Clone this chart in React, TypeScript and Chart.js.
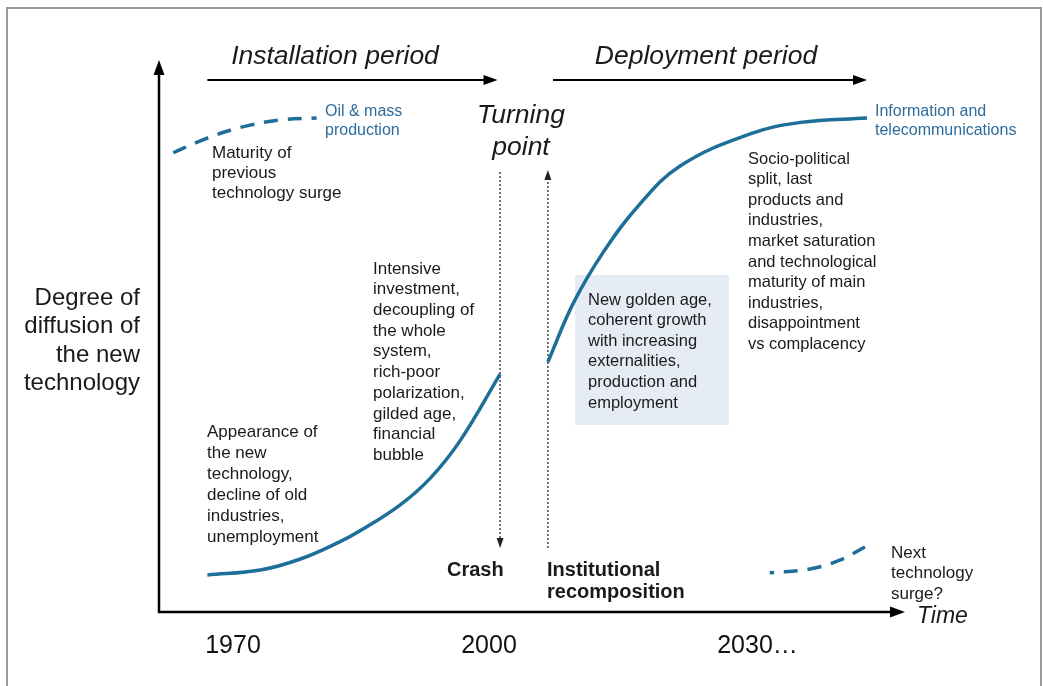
import React, { useEffect, useRef } from "react";
import { Chart, registerables } from "chart.js";

Chart.register(...registerables);

// ---- data ----
const INSTALL_YEARS = [1967, 1973.2, 1977.9, 1982.5, 1984.9, 1989.6, 1993.1, 1996.6, 2001.3];
const INSTALL_LEVELS = [6.7, 7.6, 9.6, 12.7, 14.7, 19.4, 24.2, 31.0, 43.1];
const DEPLOY_YEARS = [2006.9, 2009.9, 2013.4, 2017.4, 2022.4, 2030.6, 2036.5, 2044.3];
const DEPLOY_LEVELS = [45.3, 56.0, 65.2, 73.4, 80.8, 86.6, 88.7, 89.5];
const PREV_YEARS = [1963.0, 1966.1, 1969.1, 1972.0, 1975.3, 1979.8];
const PREV_LEVELS = [83.2, 85.3, 87.0, 88.2, 89.1, 89.5];
const NEXT_YEARS = [2032.9, 2037.6, 2041.1, 2044.1];
const NEXT_LEVELS = [7.1, 7.8, 9.4, 11.8];

const TICK_YEARS = [1970, 2000, 2030];
const TICK_LABELS = ["1970", "2000", "2030"];
const TICK_SUFFIX = ["", "", "…"];

const CRASH_YEAR = 2001.3;
const RECOMPOSITION_YEAR = 2006.9;
const PERIOD_LABELS = ["Installation period", "Deployment period"];
const PERIOD_FROM = [1967, 2007.5];
const PERIOD_TO = [2001, 2044.3];

const BLUE = "#1d6e98";
const LABEL_BLUE = "#2d6c9c";
const TEXT = "#1a1a1a";
const FONT = "'Liberation Sans', Arial, Helvetica, sans-serif";

const toXY = (xs: number[], ys: number[]) => xs.map((x, i) => ({ x, y: ys[i] }));

type Block = {
  lines: string[];
  x: number;
  y: number;
  lh: number;
  font: string;
  color?: string;
  align?: CanvasTextAlign;
};

// layout of the annotation texts (page pixels)
const BLOCKS: Block[] = [
  { lines: ["Maturity of", "previous", "technology surge"], x: 212, y: 153, lh: 20, font: `17px ${FONT}` },
  { lines: ["Oil & mass", "production"], x: 325, y: 112, lh: 19, font: `16px ${FONT}`, color: LABEL_BLUE },
  { lines: ["Information and", "telecommunications"], x: 875, y: 112, lh: 19, font: `16px ${FONT}`, color: LABEL_BLUE },
  {
    lines: ["Appearance of", "the new", "technology,", "decline of old", "industries,", "unemployment"],
    x: 207, y: 432, lh: 21, font: `17px ${FONT}`,
  },
  {
    lines: ["Intensive", "investment,", "decoupling of", "the whole", "system,", "rich-poor", "polarization,", "gilded age,", "financial", "bubble"],
    x: 373, y: 269, lh: 20.7, font: `17px ${FONT}`,
  },
  {
    lines: ["New golden age,", "coherent growth", "with increasing", "externalities,", "production and", "employment"],
    x: 588, y: 300, lh: 20.6, font: `16.5px ${FONT}`,
  },
  {
    lines: ["Socio-political", "split, last", "products and", "industries,", "market saturation", "and technological", "maturity of main", "industries,", "disappointment", "vs complacency"],
    x: 748, y: 159, lh: 20.6, font: `16.5px ${FONT}`,
  },
  { lines: ["Next", "technology", "surge?"], x: 891, y: 553, lh: 20.5, font: `17px ${FONT}` },
  { lines: ["Crash"], x: 447, y: 570, lh: 22, font: `bold 20px ${FONT}` },
  { lines: ["Institutional", "recomposition"], x: 547, y: 570, lh: 22, font: `bold 20px ${FONT}` },
  { lines: ["Turning", "point"], x: 521, y: 116, lh: 32, font: `italic 26.5px ${FONT}`, align: "center" },
  { lines: ["Time"], x: 917, y: 617, lh: 24, font: `italic 23px ${FONT}` },
  {
    lines: ["Degree of", "diffusion of", "the new", "technology"],
    x: 140, y: 298, lh: 28.6, font: `24px ${FONT}`, align: "right",
  },
];
const PERIOD_LABEL_X = [335, 706];
const PERIOD_LABEL_Y = 57;
const PERIOD_ARROW_Y = 80;
const BOX = { x: 575, y: 275, w: 154, h: 150, color: "#e6ecf4" };

function drawBlock(ctx: CanvasRenderingContext2D, b: Block) {
  ctx.save();
  ctx.font = b.font;
  ctx.fillStyle = b.color || TEXT;
  ctx.textAlign = b.align || "left";
  ctx.textBaseline = "middle";
  b.lines.forEach((l, i) => ctx.fillText(l, b.x, b.y + i * b.lh));
  ctx.restore();
}

function arrowHead(ctx: CanvasRenderingContext2D, tx: number, ty: number, dir: "up" | "down" | "right", len: number, half: number) {
  ctx.beginPath();
  if (dir === "up") {
    ctx.moveTo(tx, ty);
    ctx.lineTo(tx - half, ty + len);
    ctx.lineTo(tx + half, ty + len);
  } else if (dir === "down") {
    ctx.moveTo(tx, ty);
    ctx.lineTo(tx - half, ty - len);
    ctx.lineTo(tx + half, ty - len);
  } else {
    ctx.moveTo(tx, ty);
    ctx.lineTo(tx - len, ty - half);
    ctx.lineTo(tx - len, ty + half);
  }
  ctx.closePath();
  ctx.fill();
}

const decorPlugin = {
  id: "decor",
  beforeDatasetsDraw(chart: any) {
    const ctx: CanvasRenderingContext2D = chart.ctx;
    const { left, right, top, bottom } = chart.chartArea;
    ctx.save();
    // outer frame
    ctx.strokeStyle = "#9c9c9c";
    ctx.lineWidth = 2;
    ctx.beginPath();
    ctx.moveTo(7, 700);
    ctx.lineTo(7, 8);
    ctx.lineTo(1041, 8);
    ctx.lineTo(1041, 700);
    ctx.stroke();

    // shaded box
    ctx.fillStyle = BOX.color;
    ctx.fillRect(BOX.x, BOX.y, BOX.w, BOX.h);

    // axes
    ctx.strokeStyle = "#000";
    ctx.fillStyle = "#000";
    ctx.lineWidth = 2.5;
    ctx.beginPath();
    ctx.moveTo(left, top + 10);
    ctx.lineTo(left, bottom);
    ctx.lineTo(right - 10, bottom);
    ctx.stroke();
    arrowHead(ctx, left, top, "up", 15, 5.5);
    arrowHead(ctx, right, bottom, "right", 15, 5.5);

    // dotted vertical lines
    const xs = chart.scales.x;
    const ys = chart.scales.y;
    const cx = xs.getPixelForValue(CRASH_YEAR);
    const rx = xs.getPixelForValue(RECOMPOSITION_YEAR);
    const yTop = ys.getPixelForValue(79.7);
    const yBot = ys.getPixelForValue(11.6);
    ctx.strokeStyle = "#444";
    ctx.fillStyle = "#222";
    ctx.lineWidth = 1.5;
    ctx.setLineDash([2, 2]);
    ctx.beginPath();
    ctx.moveTo(cx, yTop);
    ctx.lineTo(cx, yBot - 8);
    ctx.moveTo(rx, yBot);
    ctx.lineTo(rx, yTop + 8);
    ctx.stroke();
    ctx.setLineDash([]);
    arrowHead(ctx, cx, yBot, "down", 10, 3.5);
    arrowHead(ctx, rx, yTop - 2, "up", 10, 3.5);
    ctx.restore();
  },
  afterDatasetsDraw(chart: any) {
    const ctx: CanvasRenderingContext2D = chart.ctx;
    const xs = chart.scales.x;
    ctx.save();
    // period arrows + labels
    ctx.strokeStyle = "#000";
    ctx.fillStyle = "#000";
    ctx.lineWidth = 2;
    PERIOD_LABELS.forEach((label, i) => {
      const x0 = xs.getPixelForValue(PERIOD_FROM[i]);
      const x1 = xs.getPixelForValue(PERIOD_TO[i]);
      ctx.beginPath();
      ctx.moveTo(x0, PERIOD_ARROW_Y);
      ctx.lineTo(x1 - 10, PERIOD_ARROW_Y);
      ctx.stroke();
      arrowHead(ctx, x1, PERIOD_ARROW_Y, "right", 14, 5);
      drawBlock(ctx, {
        lines: [label],
        x: PERIOD_LABEL_X[i],
        y: PERIOD_LABEL_Y,
        lh: 30,
        font: `italic 26.5px ${FONT}`,
        align: "center",
      });
    });
    // tick labels
    ctx.font = `25px ${FONT}`;
    ctx.fillStyle = "#111";
    ctx.textBaseline = "middle";
    ctx.textAlign = "left";
    TICK_YEARS.forEach((yr, i) => {
      const px = xs.getPixelForValue(yr);
      const w = ctx.measureText(TICK_LABELS[i]).width;
      ctx.fillText(TICK_LABELS[i] + TICK_SUFFIX[i], px - w / 2, 646);
    });
    BLOCKS.forEach((b) => drawBlock(ctx, b));
    ctx.restore();
  },
};

export default function App() {
  const ref = useRef<HTMLCanvasElement | null>(null);
  useEffect(() => {
    if (!ref.current) return;
    const lineBase = {
      borderColor: BLUE,
      borderWidth: 3.5,
      pointRadius: 0,
      tension: 0.4,
      fill: false,
    };
    const chart = new Chart(ref.current, {
      type: "line",
      data: {
        datasets: [
          { ...lineBase, label: "Installation", data: toXY(INSTALL_YEARS, INSTALL_LEVELS) },
          { ...lineBase, label: "Deployment", data: toXY(DEPLOY_YEARS, DEPLOY_LEVELS) },
          { ...lineBase, label: "Previous surge", data: toXY(PREV_YEARS, PREV_LEVELS), borderDash: [14, 10] },
          { ...lineBase, label: "Next surge", data: toXY(NEXT_YEARS, NEXT_LEVELS), borderDash: [14, 10], borderDashOffset: 10 },
        ],
      },
      options: {
        responsive: false,
        animation: false,
        devicePixelRatio: 1,
        layout: { padding: { left: 159, right: 138, top: 60, bottom: 74 } },
        scales: {
          x: { type: "linear", display: false, min: 1961.33, max: 2048.75 },
          y: { type: "linear", display: false, min: 0, max: 100 },
        },
        plugins: { legend: { display: false }, tooltip: { enabled: false } },
      },
      plugins: [decorPlugin],
    });
    return () => chart.destroy();
  }, []);
  return (
    <div style={{ position: "absolute", left: 0, top: 0, width: 1043, height: 686, background: "#fff" }}>
      <canvas ref={ref} width={1043} height={686} style={{ width: 1043, height: 686, display: "block" }} />
    </div>
  );
}
